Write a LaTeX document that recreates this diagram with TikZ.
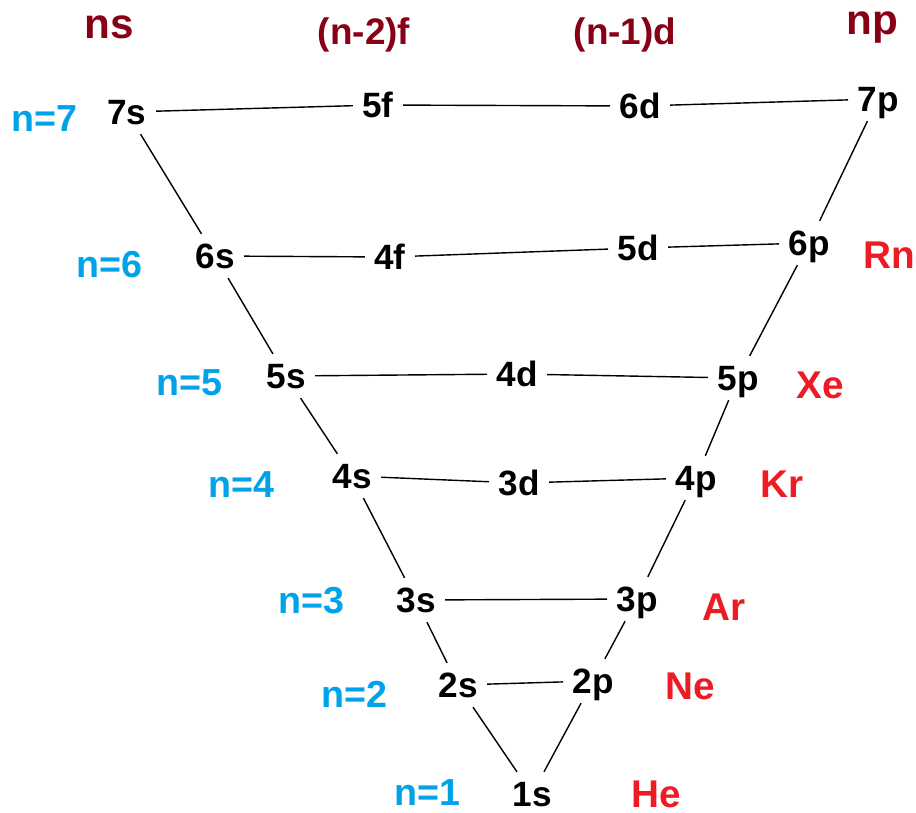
\documentclass[tikz,border=0pt]{standalone}
\usepackage{fontspec}
\setmainfont{Liberation Sans}
\usepackage{tikz}
\usetikzlibrary{positioning}
\definecolor{headred}{RGB}{136,0,21}
\definecolor{shellblue}{RGB}{0,162,232}
\definecolor{gasred}{RGB}{237,28,36}

\begin{document}
\begin{tikzpicture}[
    x=0.01cm, y=-0.01cm,
    orb/.style={inner sep=2.5pt, font=\fontsize{10}{12}\selectfont\bfseries,
        text height=7.2pt, text depth=0pt},
    head/.style={text=headred, font=\fontsize{10.5}{12}\selectfont\bfseries},
    bighead/.style={text=headred, font=\fontsize{12}{14}\selectfont\bfseries},
    shell/.style={text=shellblue, font=\fontsize{10.7}{12}\selectfont\bfseries},
    gas/.style={text=gasred, font=\fontsize{11}{13}\selectfont\bfseries},
    link/.style={line width=0.4pt}
]
\useasboundingbox (0,0) rectangle (916,812);

% Column headings
\node[bighead] (hs) at (109, 27) {ns};
\node[head] (hf) at (364, 35) {(n-2)f};
\node[head] (hd) at (625, 35) {(n-1)d};
\node[bighead] (hp) at (872, 27) {np};

% Shell labels
\node[shell] (n7) at (44, 119) {n=7};
\node[shell] (n6) at (109, 265) {n=6};
\node[shell] (n5) at (189, 383) {n=5};
\node[shell] (n4) at (241, 485) {n=4};
\node[shell] (n3) at (311, 601) {n=3};
\node[shell] (n2) at (354, 694) {n=2};
\node[shell, inner ysep=0pt] (n1) at (427, 793) {n=1};

% Noble gases
\node[gas] (rn) at (889, 255) {Rn};
\node[gas] (xe) at (820, 385) {Xe};
\node[gas] (kr) at (782, 484) {Kr};
\node[gas] (ar) at (724, 607) {Ar};
\node[gas] (ne) at (690, 686) {Ne};
\node[gas] (he) at (656, 794) {He};

% Orbitals
\node[orb] (s7) at (127, 112) {7s};
\node[orb] (f5) at (378, 105) {5f};
\node[orb] (d6) at (640, 106) {6d};
\node[orb] (p7) at (878, 99) {7p};

\node[orb] (s6) at (215, 256) {6s};
\node[orb] (f4) at (390, 257) {4f};
\node[orb] (d5) at (638, 248) {5d};
\node[orb] (p6) at (809, 243) {6p};

\node[orb] (s5) at (286, 376) {5s};
\node[orb] (d4) at (517, 374) {4d};
\node[orb] (p5) at (738, 378) {5p};

\node[orb] (s4) at (352, 476) {4s};
\node[orb] (d3) at (519, 483) {3d};
\node[orb] (p4) at (696, 478) {4p};

\node[orb] (s3) at (416, 600) {3s};
\node[orb] (p3) at (637, 599) {3p};

\node[orb] (s2) at (458, 685) {2s};
\node[orb] (p2) at (593, 681) {2p};

\node[orb] (s1) at (532, 794) {1s};

% Rows
\draw[link] (s7) -- (f5);
\draw[link] (f5) -- (d6);
\draw[link] (d6) -- (p7);
\draw[link] (s6) -- (f4);
\draw[link] (f4) -- (d5);
\draw[link] (d5) -- (p6);
\draw[link] (s5) -- (d4);
\draw[link] (d4) -- (p5);
\draw[link] (s4) -- (d3);
\draw[link] (d3) -- (p4);
\draw[link] (s3) -- (p3);
\draw[link] (s2) -- (p2);

% Left side, ns
\draw[link] (s7) -- (s6);
\draw[link] (s6) -- (s5);
\draw[link] (s5) -- (s4);
\draw[link] (s4) -- (s3);
\draw[link] (s3) -- (s2);
\draw[link] (s2) -- (s1);

% Right side, np
\draw[link] (p7) -- (p6);
\draw[link] (p6) -- (p5);
\draw[link] (p5) -- (p4);
\draw[link] (p4) -- (p3);
\draw[link] (p3) -- (p2);
\draw[link] (p2) -- (s1);

\end{tikzpicture}
\end{document}
